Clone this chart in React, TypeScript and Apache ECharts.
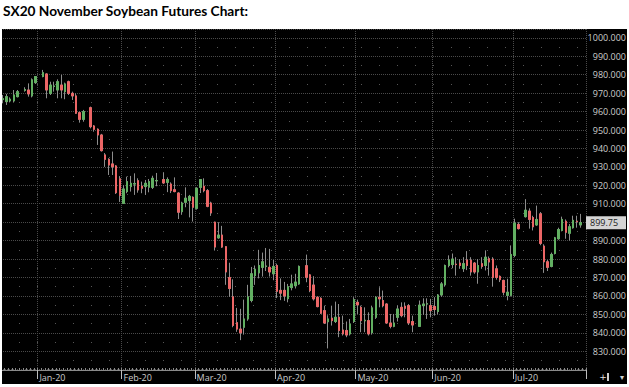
import React, { useEffect, useRef } from 'react';
import * as echarts from 'echarts';

type Bar = [number, number, number, number] | null; // [open, close, low, high]; null = exchange holiday

const TITLE = 'SX20 November Soybean Futures Chart:';
const LAST_PRICE = 899.75;
const Y_MIN = 819.8;
const Y_MAX = 1004.8;

const UP = '#62b062';
const DOWN = '#ec6666';
const WICK = '#8d8d8d';
const GRID = '#4a4a4a';
const TEXT = '#cdcdcd';

// weekday slots of each month (holidays left as empty slots)
const decDays = [18, 19, 20, 23, 24, 25, 26, 27, 30, 31];
const janDays = [1, 2, 3, 6, 7, 8, 9, 10, 13, 14, 15, 16, 17, 20, 21, 22, 23, 24, 27, 28, 29, 30, 31];
const febDays = [3, 4, 5, 6, 7, 10, 11, 12, 13, 14, 17, 18, 19, 20, 21, 24, 25, 26, 27, 28];
const marDays = [2, 3, 4, 5, 6, 9, 10, 11, 12, 13, 16, 17, 18, 19, 20, 23, 24, 25, 26, 27, 30, 31];
const aprDays = [1, 2, 3, 6, 7, 8, 9, 10, 13, 14, 15, 16, 17, 20, 21, 22, 23, 24, 27, 28, 29, 30];
const mayDays = [1, 4, 5, 6, 7, 8, 11, 12, 13, 14, 15, 18, 19, 20, 21, 22, 25, 26, 27, 28, 29];
const junDays = [1, 2, 3, 4, 5, 8, 9, 10, 11, 12, 15, 16, 17, 18, 19, 22, 23, 24, 25, 26, 29, 30];
const julDays = [1, 2, 3, 6, 7, 8, 9, 10, 13, 14, 15, 16, 17, 20, 21, 22, 23, 24, 27, 28];

const decBars: Bar[] = [
  [966.5, 967, 964.5, 969], [965.4, 968.1, 963.6, 969.6], [965.8, 966.7, 965, 967.7],
  [965.8, 969, 964.9, 971.7], [968.1, 970.8, 967.7, 971.7], null,
  [971.5, 972, 970.8, 973.2], [971.7, 969.6, 968.1, 975.3], [968.5, 977.2, 967.7, 978],
  [975.7, 979, 975, 979.3],
];
const janBars: Bar[] = [
  null, [979, 981.1, 978.6, 982.6], [980.4, 971.7, 967.2, 980.8], [969.9, 974.4, 969, 976.2],
  [973.6, 973.9, 970.8, 976.2], [971.7, 976.2, 967.2, 977.5], [974.4, 971.7, 967.2, 979.9],
  [970.8, 975, 966.7, 975.7], [976.2, 969.9, 969, 976.8], [969.9, 968.5, 966.3, 970.8],
  [968.5, 959.1, 958.7, 969.9], [959.4, 955.8, 954, 960], [955.8, 960, 954.5, 960.9], null,
  [962.1, 951.8, 950.9, 962.7], [952.2, 950.4, 949.1, 952.7], [950.4, 947.3, 941.9, 950.9],
  [947.3, 938.8, 938.3, 947.9], [936.5, 934.1, 930, 937.5], [934.1, 931, 925.6, 934.7],
  [931.6, 930.1, 925.6, 938.3], [930.5, 916, 915.3, 931], [923.5, 914.5, 911, 925],
];
const febBars: Bar[] = [
  [910.2, 918, 909.9, 920], [916.6, 922, 915.7, 924.7], [919.3, 921.1, 916.6, 925.1],
  [920.7, 920.9, 914.8, 926.5], [922.5, 917.5, 916, 923.8], [919.6, 918.4, 915.7, 922],
  [919.3, 921.1, 914.8, 922.9], [919, 922, 916.2, 923.4], [918.9, 923.8, 918, 925.2],
  [922.4, 922.6, 919.5, 926.7], null, [923.1, 921.3, 920.7, 927.1], [921.6, 923.1, 916.3, 924.3],
  [920.7, 917.1, 915.8, 921.6], [917.6, 916.6, 916.2, 924.3], [915.8, 905.4, 901.7, 916.2],
  [905.7, 910.4, 904, 911.1], [910.8, 913, 908.1, 918.9], [911.7, 914, 902.6, 914.8],
  [913.5, 908.1, 900.3, 914],
];
const marBars: Bar[] = [
  [907.5, 918.4, 906.8, 918.9], [918.9, 923.1, 915.8, 923.4], [919.5, 917.1, 916.2, 923.8],
  [917.1, 908.6, 908.1, 918], [910.4, 905, 903.4, 911.1], [900, 886.5, 884.6, 900.3],
  [891.5, 893, 891, 900], [893, 886.5, 886, 898], [886.7, 873, 866, 887],
  [870, 864, 859.5, 878], [859.5, 844, 843, 869], [845.5, 842, 840.5, 853.5],
  [842, 840, 836, 853], [843, 847.5, 839, 858], [847.5, 859.5, 846.5, 866],
  [857.5, 872, 856.5, 875.7], [871, 874.5, 866, 876.5], [872.5, 876.5, 869.5, 885],
  [875.5, 878.5, 870.5, 883.5], [876, 876.2, 873.5, 886], [875.5, 873, 870.5, 885.5],
  [872, 876, 868.5, 879.5],
];
const aprBars: Bar[] = [
  [876.5, 862.5, 858.8, 877.5], [863, 861.5, 857.7, 869.5], [863, 860, 857.3, 867.6],
  [858.5, 865, 856.5, 866.5], [864.5, 866.5, 863, 871.5], [865.5, 867.5, 864, 872],
  [866.5, 876, 866, 876.5], null, [876.4, 870.1, 867.4, 882.4], [871.4, 862.9, 862, 871.9],
  [865.9, 858.4, 857.5, 870.7], [859.3, 854.2, 853.8, 859.8], [858.7, 850.6, 850.2, 859.3],
  [852, 845.3, 844.8, 854.7], [846, 847.5, 831.5, 849.5], [847.9, 846.6, 843.9, 854.7],
  [846.1, 848.4, 845.3, 856.9], [848.4, 841.2, 837.6, 855.6], [841.5, 839.4, 838.5, 849.3],
  [841.2, 838.8, 837.6, 846.1], [839.4, 844.8, 838.5, 847.5], [846.1, 858, 845.3, 859.3],
];
const mayBars: Bar[] = [
  [856.5, 855.1, 850.2, 858], [853.8, 846.6, 840.3, 854.7], [846.5, 846.8, 840.3, 853.8],
  [846.6, 839.4, 838.5, 851.1], [840, 853.5, 839, 854.7], [848.4, 859.3, 847.5, 859.8],
  [859.3, 858.4, 853.8, 864.7], [857.5, 854.7, 853.8, 862.9], [855.6, 845.3, 844.8, 856],
  [845.3, 843.5, 842.4, 850.2], [843.5, 845.3, 843, 850.2], [848.4, 852.9, 846.1, 854.7],
  [853.8, 849.3, 848.4, 856.5], [854.4, 853.3, 848.4, 856.5], [854.7, 845.3, 844.2, 855.6],
  [846.1, 844.2, 840.3, 849.3], null, [843.5, 855, 843.5, 857.5], [854.7, 855.6, 849.7, 858.7],
  [855.6, 855.7, 847.5, 858.7], [854.7, 852, 848.4, 858.4],
];
const junBars: Bar[] = [
  [854.2, 852.6, 849.3, 859.3], [851.5, 860.5, 850, 861], [860.5, 866.5, 859.5, 867.5],
  [866, 876.5, 865, 877], [876.5, 879.5, 875.5, 882], [877, 880, 875, 883],
  [877.2, 877, 871, 881], [877.8, 876.5, 874.7, 880], [874.8, 877.5, 873, 881],
  [879.5, 876.5, 874, 884.3], [879.3, 873, 871, 881], [877.8, 873, 872, 878.4],
  [873, 876.5, 866.6, 880], [877.5, 876, 874.7, 881], [876.5, 881, 873.8, 884.7],
  [880.2, 878.4, 871, 881.4], [880, 870, 865, 881], [874.7, 870, 868.8, 876.5],
  [870.6, 868.8, 867.5, 871.1], [868.4, 862, 860.3, 868.8], [860.3, 862, 857.6, 869.3],
  [860.3, 882.5, 859.7, 887.4],
];
const julBars: Bar[] = [
  [882, 899.5, 881, 901.9], [898.8, 896.5, 896, 900], null, [903, 906.5, 902.5, 912.5],
  [906, 901.5, 896.5, 907.5], [902.5, 897.5, 895.5, 903.5], [898.5, 901.5, 898, 909],
  [904.5, 888.5, 887.5, 905.5], [887, 878.5, 872.5, 888], [878.5, 875.5, 873.5, 879.5],
  [876, 882.5, 875.5, 883.5], [883, 891.5, 882.5, 892], [891, 896, 890.5, 897],
  [895.5, 901.5, 895, 903], [900.5, 894.5, 891, 901.5], [894, 897.5, 890, 899],
  [897, 901, 896.5, 903.5], [900.5, 900.3, 897, 903.5], [898.5, 899.75, 897, 904.5], null,
];

const months = [
  { ym: '2019-12', label: '', days: decDays, bars: decBars },
  { ym: '2020-01', label: 'Jan-20', days: janDays, bars: janBars },
  { ym: '2020-02', label: 'Feb-20', days: febDays, bars: febBars },
  { ym: '2020-03', label: 'Mar-20', days: marDays, bars: marBars },
  { ym: '2020-04', label: 'Apr-20', days: aprDays, bars: aprBars },
  { ym: '2020-05', label: 'May-20', days: mayDays, bars: mayBars },
  { ym: '2020-06', label: 'Jun-20', days: junDays, bars: junBars },
  { ym: '2020-07', label: 'Jul-20', days: julDays, bars: julBars },
];

export default function App() {
  const ref = useRef<HTMLDivElement>(null);

  useEffect(() => {
    if (!ref.current) return;
    const chart = echarts.init(ref.current, undefined, { renderer: 'svg' });

    const categories: string[] = [];
    const bars: Bar[] = [];
    const monthLabel: Record<number, string> = {};
    months.forEach((m) => {
      m.days.forEach((d, i) => {
        if (i === 0 && m.label) monthLabel[categories.length] = m.label;
        categories.push(`${m.ym}-${String(d).padStart(2, '0')}`);
        bars.push(m.bars[i] ?? null);
      });
    });
    const empty = ['-', '-', '-', '-'];
    const wickData = bars.map((b) => (b ? b.slice() : empty));
    const bodyData = bars.map((b) =>
      b ? [b[0], b[1], Math.min(b[0], b[1]), Math.max(b[0], b[1])] : empty
    );
    const isMonthStart = (i: number) => monthLabel[i] !== undefined;

    chart.setOption({
      animation: false,
      backgroundColor: '#000000',
      textStyle: { fontFamily: 'Open Sans' },
      grid: { left: 1, right: 43, top: 29, bottom: 17 },
      xAxis: [
        {
          type: 'category',
          data: categories,
          boundaryGap: true,
          position: 'bottom',
          axisLine: { show: true, lineStyle: { color: '#8a8a8a', width: 1 } },
          axisTick: { show: true, interval: 0, inside: true, length: 2, lineStyle: { color: '#8a8a8a' } },
          axisLabel: { show: false },
          splitLine: { show: true, interval: (i: number) => isMonthStart(i), lineStyle: { color: GRID, type: [1, 1] } },
        },
        {
          type: 'category',
          data: categories,
          boundaryGap: true,
          position: 'bottom',
          offset: 0,
          axisLine: { show: false },
          axisTick: { show: true, interval: (i: number) => isMonthStart(i), length: 9, lineStyle: { color: '#bdbdbd' } },
          axisLabel: {
            show: true,
            interval: (i: number) => isMonthStart(i),
            formatter: (_v: string, i: number) => monthLabel[i] ?? '',
            align: 'left',
            color: TEXT,
            fontSize: 9,
            fontFamily: 'Open Sans',
            margin: 3,
          },
          splitLine: { show: false },
        },
      ],
      yAxis: {
        type: 'value',
        position: 'right',
        min: Y_MIN,
        max: Y_MAX,
        splitNumber: 18,
        axisLine: { show: false },
        axisTick: { show: false },
        axisLabel: {
          color: TEXT,
          fontSize: 9,
          fontFamily: 'Open Sans',
          align: 'right',
          margin: 40,
          formatter: (v: number) => {
            const r = Math.round(v);
            if (Math.abs(v - r) > 1e-6 || r % 10 !== 0) return '';
            if (r < 830 || Math.abs(r - LAST_PRICE) < 5) return '';
            return r.toFixed(3);
          },
        },
        splitLine: { show: true, lineStyle: { color: GRID, type: [1, 1] } },
        minorTick: { show: false, splitNumber: 2 },
        minorSplitLine: { show: true, lineStyle: { color: '#555555', type: [1, 17] } },
      },
      series: [
        {
          name: 'wick',
          type: 'candlestick',
          xAxisIndex: 0,
          data: wickData,
          barWidth: 2,
          itemStyle: { color: WICK, color0: WICK, borderColor: WICK, borderColor0: WICK, borderWidth: 1 },
          z: 2,
        },
        {
          name: 'SX20',
          type: 'candlestick',
          xAxisIndex: 0,
          data: bodyData,
          barWidth: 2,
          itemStyle: { color: UP, color0: DOWN, borderColor: UP, borderColor0: DOWN, borderWidth: 1 },
          z: 3,
        },
      ],
    });

    const yLast = chart.convertToPixel({ yAxisIndex: 0 }, LAST_PRICE) as number;
    chart.setOption({
      graphic: [
        { type: 'rect', id: 'wTop', shape: { x: 0, y: 0, width: 629, height: 29 }, style: { fill: '#ffffff' }, z: 100, silent: true },
        { type: 'rect', id: 'wLeft', shape: { x: 0, y: 0, width: 2, height: 387 }, style: { fill: '#ffffff' }, z: 100, silent: true },
        { type: 'rect', id: 'wRight', shape: { x: 627, y: 0, width: 2, height: 387 }, style: { fill: '#ffffff' }, z: 100, silent: true },
        { type: 'rect', id: 'wBottom', shape: { x: 0, y: 384, width: 629, height: 3 }, style: { fill: '#ffffff' }, z: 100, silent: true },
        {
          type: 'text', id: 'title', x: 3, y: 10, z: 101,
          style: { text: TITLE, fill: '#000000', fontSize: 13.7, fontWeight: 'bold', fontFamily: 'Lato', verticalAlign: 'middle' },
        },
        { type: 'rect', id: 'lastBox', shape: { x: 586, y: yLast - 6.5, width: 40, height: 13 }, style: { fill: '#d4d4d4' }, z: 101 },
        {
          type: 'text', id: 'lastTxt', x: 590, y: yLast, z: 102,
          style: { text: LAST_PRICE.toFixed(2), fill: '#1a1a1a', fontSize: 9, fontFamily: 'Open Sans', verticalAlign: 'middle' },
        },
        {
          type: 'text', id: 'iconA', x: 603, y: 377, z: 102,
          style: { text: '+', fill: '#e0e0e0', fontSize: 9, fontFamily: 'DejaVu Sans', verticalAlign: 'middle', align: 'center' },
        },
        { type: 'rect', id: 'iconB', shape: { x: 607, y: 373, width: 2, height: 8 }, style: { fill: '#d0d0d0' }, z: 102 },
        {
          type: 'text', id: 'iconC', x: 622, y: 377, z: 102,
          style: { text: '▾', fill: '#d0d0d0', fontSize: 8, fontFamily: 'DejaVu Sans', verticalAlign: 'middle', align: 'center' },
        },
      ],
    });

    return () => chart.dispose();
  }, []);

  return (
    <div
      ref={ref}
      style={{ position: 'absolute', left: 0, top: 0, width: 629, height: 387 }}
    />
  );
}
